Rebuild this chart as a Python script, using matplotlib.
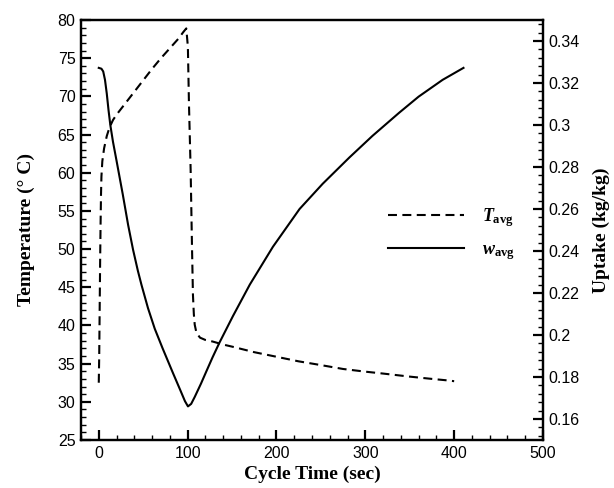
import matplotlib
matplotlib.use("Agg")
import matplotlib.pyplot as plt
from matplotlib.ticker import MultipleLocator, FuncFormatter

plt.rcParams['mathtext.fontset'] = 'custom'
plt.rcParams['mathtext.rm'] = 'Liberation Serif:bold'
plt.rcParams['mathtext.bf'] = 'Liberation Serif:bold'
plt.rcParams['mathtext.it'] = 'Liberation Serif:bold:italic'

# Average temperature (dashed, left axis)
t_T = [0, 0.5, 1, 1.5, 2, 2.5, 3, 4, 6, 9, 12, 16, 20, 30, 40, 50, 60, 70, 80, 90,
       95, 98.5, 100.3, 101.5, 103.4, 104.9, 106, 107, 108, 110, 114, 120, 128,
       140, 151, 175, 200, 225, 248, 275, 300, 320, 350, 375, 393, 400]
T_avg = [32.5, 36, 42, 48, 53, 57, 59.5, 61.5, 63.2, 64.8, 65.9, 66.9, 67.6, 69.1,
         70.6, 72.1, 73.6, 75.0, 76.3, 77.6, 78.4, 78.9, 76.5, 69.1, 60.4, 50.5, 44,
         41.5, 40.1, 39.0, 38.4, 38.1, 37.9, 37.5, 37.2, 36.5, 35.9, 35.3, 34.85,
         34.3, 33.95, 33.7, 33.3, 33.0, 32.8, 32.7]

# Average uptake (solid, right axis)
t_w = [0, 3, 5, 7, 9, 11, 13, 16, 20, 27, 33, 38.6, 44, 48, 55.4, 63, 72, 83.5, 92, 97,
       100.4, 104, 108, 115, 121, 128, 136, 151, 170, 196, 226, 252, 282, 308, 338,
       360, 387, 410.5]
w_avg = [0.3272, 0.3268, 0.3255, 0.3215, 0.315, 0.307, 0.300, 0.292, 0.283, 0.267,
         0.2525, 0.2406, 0.2306, 0.2240, 0.2128, 0.2030, 0.1935, 0.1819, 0.1735, 0.1685,
         0.1660, 0.1672, 0.1705, 0.1768, 0.1826, 0.1893, 0.1965, 0.2090, 0.2240,
         0.2420, 0.2600, 0.2720, 0.2845, 0.2948, 0.3058, 0.3135, 0.3215, 0.3272]

x_ticks = [0, 100, 200, 300, 400, 500]

fig = plt.figure(figsize=(6.14, 4.88), dpi=100)
ax = fig.add_axes([81/614, 48/488, 462/614, 420/488])
ax2 = ax.twinx()

l1, = ax.plot(t_T, T_avg, color='black', lw=1.5, ls=(0, (4.3, 2.6)))
l2, = ax2.plot(t_w, w_avg, color='black', lw=1.5)

ax.set_xlim(-20, 500)
ax.set_ylim(25, 80)
ax2.set_ylim(0.15, 0.35)

ax.set_xticks(x_ticks)
ax.xaxis.set_minor_locator(MultipleLocator(20))
ax.yaxis.set_major_locator(MultipleLocator(5))
ax.yaxis.set_minor_locator(MultipleLocator(1))
ax2.yaxis.set_major_locator(MultipleLocator(0.02))
ax2.yaxis.set_minor_locator(MultipleLocator(0.004))

def fmt(v, pos):
    return f"{v:.2f}".rstrip('0').rstrip('.')
ax2.yaxis.set_major_formatter(FuncFormatter(fmt))

for a in (ax, ax2):
    for s in a.spines.values():
        s.set_linewidth(1.6)

ax.tick_params(axis='both', which='major', direction='in', length=7, width=1.6,
               labelsize=11.5, top=False, right=False, pad=4)
ax.tick_params(axis='both', which='minor', direction='in', length=3.5, width=1.0,
               top=False, right=False)
ax2.tick_params(axis='y', which='major', direction='in', length=7, width=1.6,
                labelsize=11.5, pad=4)
ax2.tick_params(axis='y', which='minor', direction='in', length=3.5, width=1.0)
for lab in ax.get_xticklabels() + ax.get_yticklabels() + ax2.get_yticklabels():
    lab.set_fontfamily('Liberation Sans')

labfont = dict(family='Liberation Serif', weight='bold', size=14)
ax.set_xlabel('Cycle Time (sec)', fontdict=labfont, labelpad=4)
ax.set_ylabel('Temperature (° C)', fontdict=labfont, labelpad=16)
ax2.set_ylabel('Uptake (kg/kg)', fontdict=labfont, labelpad=9)

leg = ax2.legend([l1, l2], [r'$T_{\mathbf{avg}}$', r'$w_{\mathbf{avg}}$'],
                 loc='center left', bbox_to_anchor=(0.645, 0.49), frameon=False,
                 handlelength=4.2, handletextpad=1.0, labelspacing=0.65,
                 borderpad=0, prop={'size': 13})

fig.savefig('out.png', dpi=100)
